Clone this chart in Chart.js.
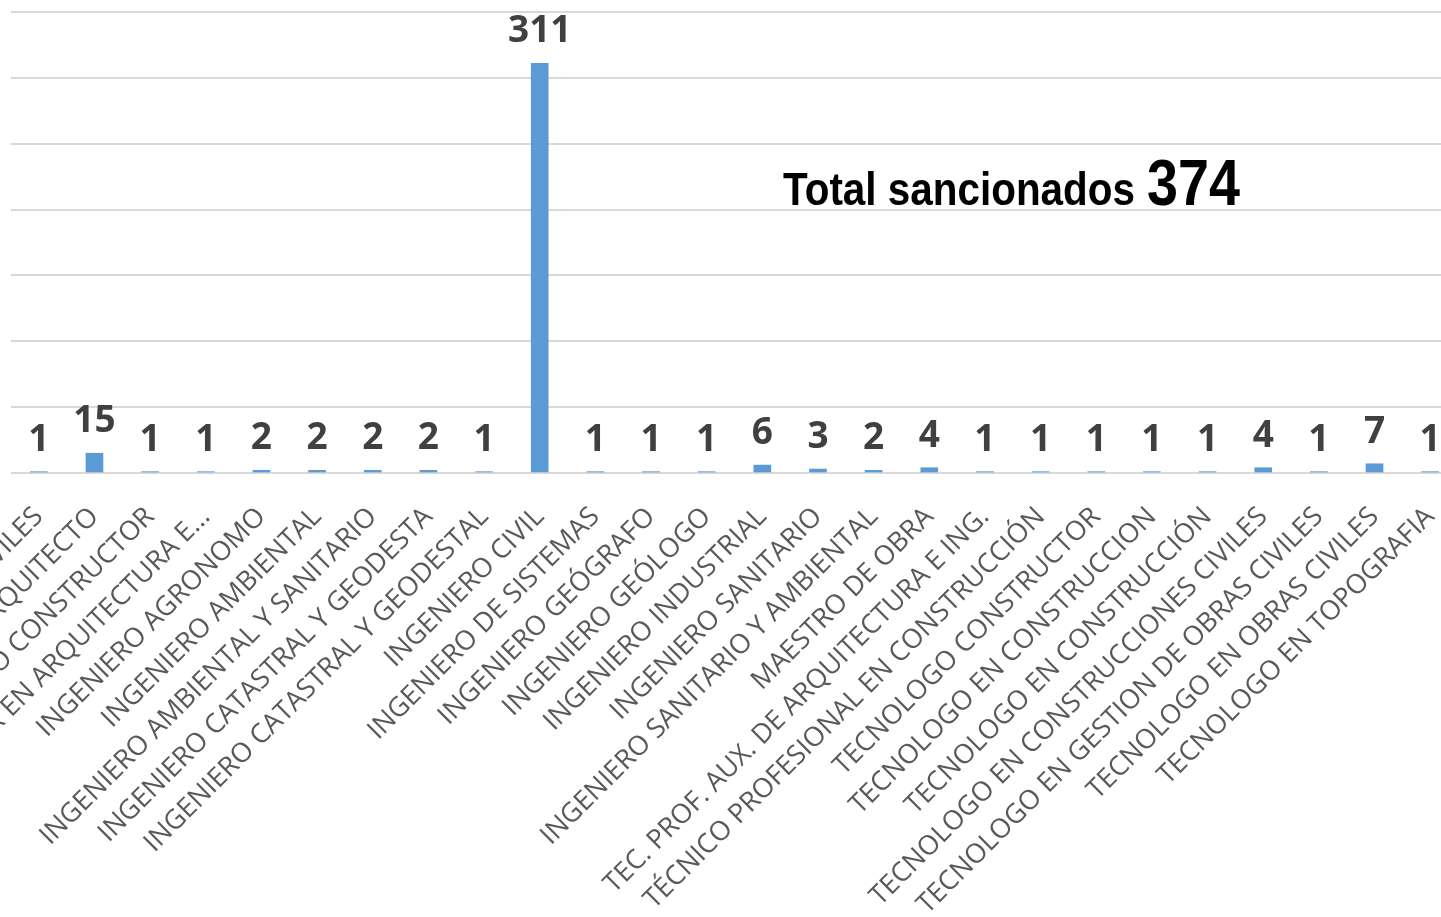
<!DOCTYPE html>
<html>
<head>
<meta charset="utf-8">
<script src="https://cdn.jsdelivr.net/npm/chart.js@4"></script>
<style>
  html, body { margin: 0; padding: 0; background: #fff; overflow: hidden; }
  #wrap { position: absolute; left: 0; top: 0; width: 1458px; height: 917px; }
</style>
</head>
<body>
<div id="wrap"><canvas id="myChart"></canvas></div>
<script>
let labelsC = [
    "CONSTRUCTOR EN OBRAS CIVILES",
    "ARQUITECTO",
    "ARQUITECTO CONSTRUCTOR",
    "CONSTRUCTOR EN ARQUITECTURA E...",
    "INGENIERO AGRONOMO",
    "INGENIERO AMBIENTAL",
    "INGENIERO AMBIENTAL Y SANITARIO",
    "INGENIERO CATASTRAL Y GEODESTA",
    "INGENIERO CATASTRAL Y GEODESTAL",
    "INGENIERO CIVIL",
    "INGENIERO DE SISTEMAS",
    "INGENIERO GEÓGRAFO",
    "INGENIERO GEÓLOGO",
    "INGENIERO INDUSTRIAL",
    "INGENIERO SANITARIO",
    "INGENIERO SANITARIO Y AMBIENTAL",
    "MAESTRO DE OBRA",
    "TEC. PROF. AUX. DE ARQUITECTURA E ING.",
    "TÉCNICO PROFESIONAL EN CONSTRUCCIÓN",
    "TECNOLOGO CONSTRUCTOR",
    "TECNOLOGO EN CONSTRUCCION",
    "TECNOLOGO EN CONSTRUCCIÓN",
    "TECNOLOGO EN CONSTRUCCIONES CIVILES",
    "TECNOLOGO EN GESTION DE OBRAS CIVILES",
    "TECNOLOGO EN OBRAS CIVILES",
    "TECNOLOGO EN TOPOGRAFIA"
];
let value = [1, 15, 1, 1, 2, 2, 2, 2, 1, 311, 1, 1, 1, 6, 3, 2, 4, 1, 1, 1, 1, 1, 4, 1, 7, 1];
let totalLabel = "Total sancionados";
let totalValue = "374";
let barColor = '#5B9BD5';

// numbers above each bar
let valueLabels = {
    id: 'valueLabels',
    afterDatasetsDraw(chart) {
        let ctx = chart.ctx;
        let meta = chart.getDatasetMeta(0);
        ctx.save();
        ctx.font = 'bold 37px "Open Sans"';
        ctx.fillStyle = '#404040';
        ctx.textAlign = 'center';
        ctx.textBaseline = 'alphabetic';
        meta.data.forEach((bar, i) => {
            ctx.fillText(String(value[i]), bar.x, bar.y - 21);
        });
        ctx.restore();
    }
};

// squeezed text, like the condensed font of the original
function squeezed(ctx, text, x, y, width) {
    let w = ctx.measureText(text).width;
    ctx.save();
    ctx.translate(x, y);
    ctx.scale(width / w, 1);
    ctx.fillText(text, 0, 0);
    ctx.restore();
}

// "Total sancionados 374" note
let totalNote = {
    id: 'totalNote',
    afterDraw(chart) {
        let ctx = chart.ctx;
        ctx.save();
        ctx.fillStyle = '#000';
        ctx.textBaseline = 'alphabetic';
        ctx.textAlign = 'left';
        ctx.font = 'bold 46px "Liberation Sans"';
        squeezed(ctx, totalLabel, 783, 205, 352);
        ctx.font = 'bold 65px "Liberation Sans"';
        squeezed(ctx, totalValue, 1147, 205, 93);
        ctx.restore();
    }
};

let ctx = document.getElementById("myChart").getContext('2d');
let myChart = new Chart(ctx, {
    type: 'bar',
    data: {
        labels: labelsC,
        datasets: [{
            data: value,
            backgroundColor: barColor,
            borderWidth: 0,
            barThickness: 17
        }]
    },
    options: {
        responsive: true,
        maintainAspectRatio: false,
        animation: false,
        layout: { padding: { left: 11, top: 12, right: 0, bottom: 0 } },
        plugins: { legend: { display: false }, tooltip: { enabled: false } },
        scales: {
            x: {
                grid: { display: false },
                border: { display: false },
                ticks: {
                    autoSkip: false,
                    maxRotation: 45,
                    minRotation: 45,
                    padding: 20,
                    color: '#595959',
                    font: { family: '"Open Sans"', size: 27 }
                },
                afterFit(s) {
                    s.paddingLeft = 0;
                    s.paddingRight = 0;
                    s.height = 444;
                }
            },
            y: {
                min: 0,
                max: 350,
                ticks: { display: false, stepSize: 50 },
                grid: { color: '#d9d9d9', lineWidth: 2, drawTicks: false },
                border: { display: false },
                afterFit(s) { s.width = 0; }
            }
        }
    },
    plugins: [valueLabels, totalNote]
});
</script>
</body>
</html>
